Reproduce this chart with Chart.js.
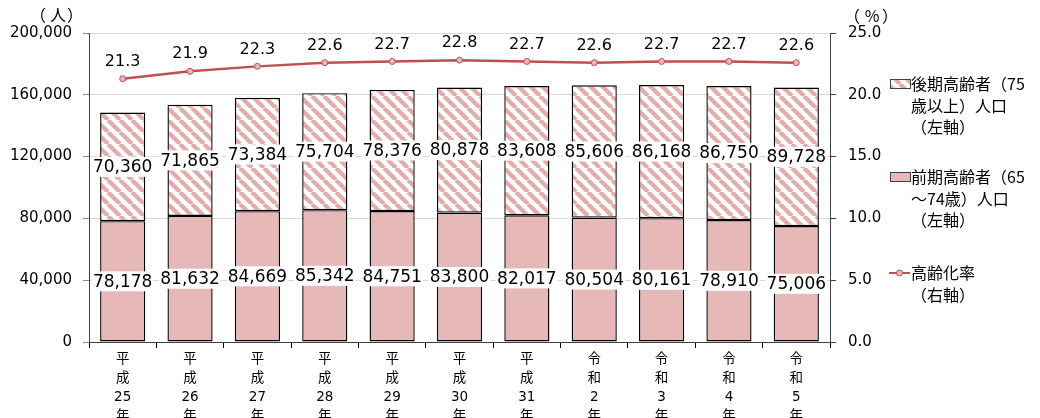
<!DOCTYPE html>
<html>
<head>
<meta charset="utf-8">
<script src="https://cdn.jsdelivr.net/npm/chart.js@4/dist/chart.umd.min.js"></script>
<style>
  html, body { margin: 0; padding: 0; background: #fff; }
  #wrap { width: 1040px; height: 418px; }
</style>
</head>
<body>
<div id="wrap"><canvas id="chartCanvas" width="1040" height="418"></canvas></div>
<script>
// categories (vertical stacked labels)
const years = [
  ['平', '成', '25', '年'], ['平', '成', '26', '年'], ['平', '成', '27', '年'],
  ['平', '成', '28', '年'], ['平', '成', '29', '年'], ['平', '成', '30', '年'],
  ['平', '成', '31', '年'], ['令', '和', '2', '年'], ['令', '和', '3', '年'],
  ['令', '和', '4', '年'], ['令', '和', '5', '年']
];
// 前期高齢者（65～74歳）人口
const early = [78178, 81632, 84669, 85342, 84751, 83800, 82017, 80504, 80161, 78910, 75006];
// 後期高齢者（75歳以上）人口
const late = [70360, 71865, 73384, 75704, 78376, 80878, 83608, 85606, 86168, 86750, 89728];
// 高齢化率
const rate = [21.3, 21.9, 22.3, 22.6, 22.7, 22.8, 22.7, 22.6, 22.7, 22.7, 22.6];

const legendItems = [
  { kind: 'hatch', lines: ['後期高齢者（75', '歳以上）人口', '（左軸）'] },
  { kind: 'solid', lines: ['前期高齢者（65', '～74歳）人口', '（左軸）'] },
  { kind: 'line', lines: ['高齢化率', '（右軸）'] }
];

const PINK = '#E6B8B7';
const RED = '#C0504D';
const JP = '"Noto Sans CJK JP", sans-serif';
const NUM = '"DejaVu Sans", "Noto Sans CJK JP", sans-serif';

function makeHatch() {
  const s = 12;
  const c = document.createElement('canvas');
  c.width = s; c.height = s;
  const g = c.getContext('2d');
  g.fillStyle = '#fff';
  g.fillRect(0, 0, s, s);
  g.strokeStyle = '#E4ABAA';
  g.lineWidth = 4.2;
  for (const off of [-s, 0, s]) {
    g.beginPath();
    g.moveTo(off, 0);
    g.lineTo(off + s, s);
    g.stroke();
  }
  return g.createPattern(c, 'repeat');
}
const hatch = makeHatch();

// draws a title like （人） with the brackets spread apart
function spacedTitle(ctx, parts, xs, y) {
  parts.forEach((p, i) => ctx.fillText(p, xs[i], y));
}

// value labels on bars and line, axis titles and legend
const labelPlugin = {
  id: 'labels',
  afterDatasetsDraw(chart) {
    const ctx = chart.ctx;
    ctx.save();
    ctx.textAlign = 'center';
    ctx.textBaseline = 'middle';
    ctx.font = '17px ' + NUM;
    [1, 2].forEach(di => {
      const meta = chart.getDatasetMeta(di);
      meta.data.forEach((bar, i) => {
        const txt = chart.data.datasets[di].data[i].toLocaleString('en-US');
        const cy = (bar.y + bar.base) / 2;
        const w = ctx.measureText(txt).width + 2;
        ctx.fillStyle = '#fff';
        ctx.fillRect(bar.x - w / 2, cy - 10, w, 20);
        ctx.fillStyle = '#000';
        ctx.fillText(txt, bar.x, cy + 1);
      });
    });
    ctx.font = '16px ' + NUM;
    ctx.fillStyle = '#000';
    chart.getDatasetMeta(0).data.forEach((pt, i) => {
      ctx.fillText(rate[i].toFixed(1), pt.x, pt.y - 17);
    });
    ctx.restore();
  },
  afterDraw(chart) {
    const ctx = chart.ctx;
    ctx.save();
    ctx.fillStyle = '#000';
    ctx.textBaseline = 'middle';
    ctx.textAlign = 'center';
    ctx.font = '16px ' + JP;
    spacedTitle(ctx, ['（', '人', '）'], [38, 58, 75], 15);
    spacedTitle(ctx, ['（', '%', '）'], [852, 872, 890], 16);

    ctx.textAlign = 'left';
    ctx.font = '16px ' + JP;
    const tops = [84, 177, 273];
    legendItems.forEach((item, k) => {
      const y = tops[k];
      if (item.kind === 'line') {
        ctx.strokeStyle = RED;
        ctx.lineWidth = 2;
        ctx.beginPath();
        ctx.moveTo(889, y);
        ctx.lineTo(910, y);
        ctx.stroke();
        ctx.beginPath();
        ctx.arc(899.5, y, 3, 0, Math.PI * 2);
        ctx.fillStyle = PINK;
        ctx.fill();
        ctx.lineWidth = 1;
        ctx.stroke();
      } else {
        ctx.fillStyle = item.kind === 'hatch' ? hatch : PINK;
        ctx.fillRect(890, y - 4.5, 20, 9);
        ctx.strokeStyle = '#404040';
        ctx.lineWidth = 1;
        ctx.strokeRect(890.5, y - 4.5, 20, 9);
      }
      ctx.fillStyle = '#000';
      item.lines.forEach((ln, j) => {
        ctx.fillText(ln, 911, y + j * 21.5);
      });
    });
    ctx.restore();
  }
};

new Chart(document.getElementById('chartCanvas'), {
  data: {
    labels: years,
    datasets: [
      {
        type: 'line',
        label: '高齢化率',
        data: rate,
        yAxisID: 'y1',
        borderColor: RED,
        borderWidth: 2.5,
        pointRadius: 3,
        pointBackgroundColor: PINK,
        pointBorderColor: RED,
        pointBorderWidth: 1,
        tension: 0,
        fill: false
      },
      {
        type: 'bar',
        label: '前期高齢者（65～74歳）人口',
        data: early,
        yAxisID: 'y',
        stack: 's',
        backgroundColor: PINK,
        borderColor: '#000',
        borderWidth: 1.4,
        borderSkipped: false,
        barPercentage: 0.67,
        categoryPercentage: 1
      },
      {
        type: 'bar',
        label: '後期高齢者（75歳以上）人口',
        data: late,
        yAxisID: 'y',
        stack: 's',
        backgroundColor: hatch,
        borderColor: '#000',
        borderWidth: 1.4,
        borderSkipped: false,
        barPercentage: 0.67,
        categoryPercentage: 1
      }
    ]
  },
  options: {
    responsive: false,
    animation: false,
    layout: { padding: { top: 33, left: 0, right: 0, bottom: 0 } },
    plugins: { legend: { display: false }, tooltip: { enabled: false } },
    scales: {
      x: {
        stacked: true,
        afterFit: s => { s.height = 76; },
        grid: { display: true, offset: true, drawOnChartArea: false, tickLength: 6, color: '#000' },
        border: { color: '#404040' },
        ticks: {
          color: '#000',
          padding: 2,
          maxRotation: 0,
          autoSkip: false,
          font: { family: NUM, size: 13.5, lineHeight: 1.4 }
        }
      },
      y: {
        position: 'left',
        stacked: true,
        min: 0,
        max: 200000,
        afterFit: s => { s.width = 89; },
        grid: { color: '#D9D9D9', tickColor: '#888', tickLength: 6 },
        border: { color: '#404040' },
        ticks: {
          stepSize: 40000,
          color: '#000',
          padding: 11,
          font: { family: NUM, size: 15 },
          callback: v => v.toLocaleString('en-US')
        }
      },
      y1: {
        position: 'right',
        min: 0,
        max: 25,
        afterFit: s => { s.width = 210; },
        grid: { drawOnChartArea: false, tickColor: '#404040', tickLength: 6 },
        border: { color: '#404040' },
        ticks: {
          stepSize: 5,
          color: '#000',
          padding: 12,
          font: { family: NUM, size: 15 },
          callback: v => v.toFixed(1)
        }
      }
    }
  },
  plugins: [labelPlugin]
});
</script>
</body>
</html>
